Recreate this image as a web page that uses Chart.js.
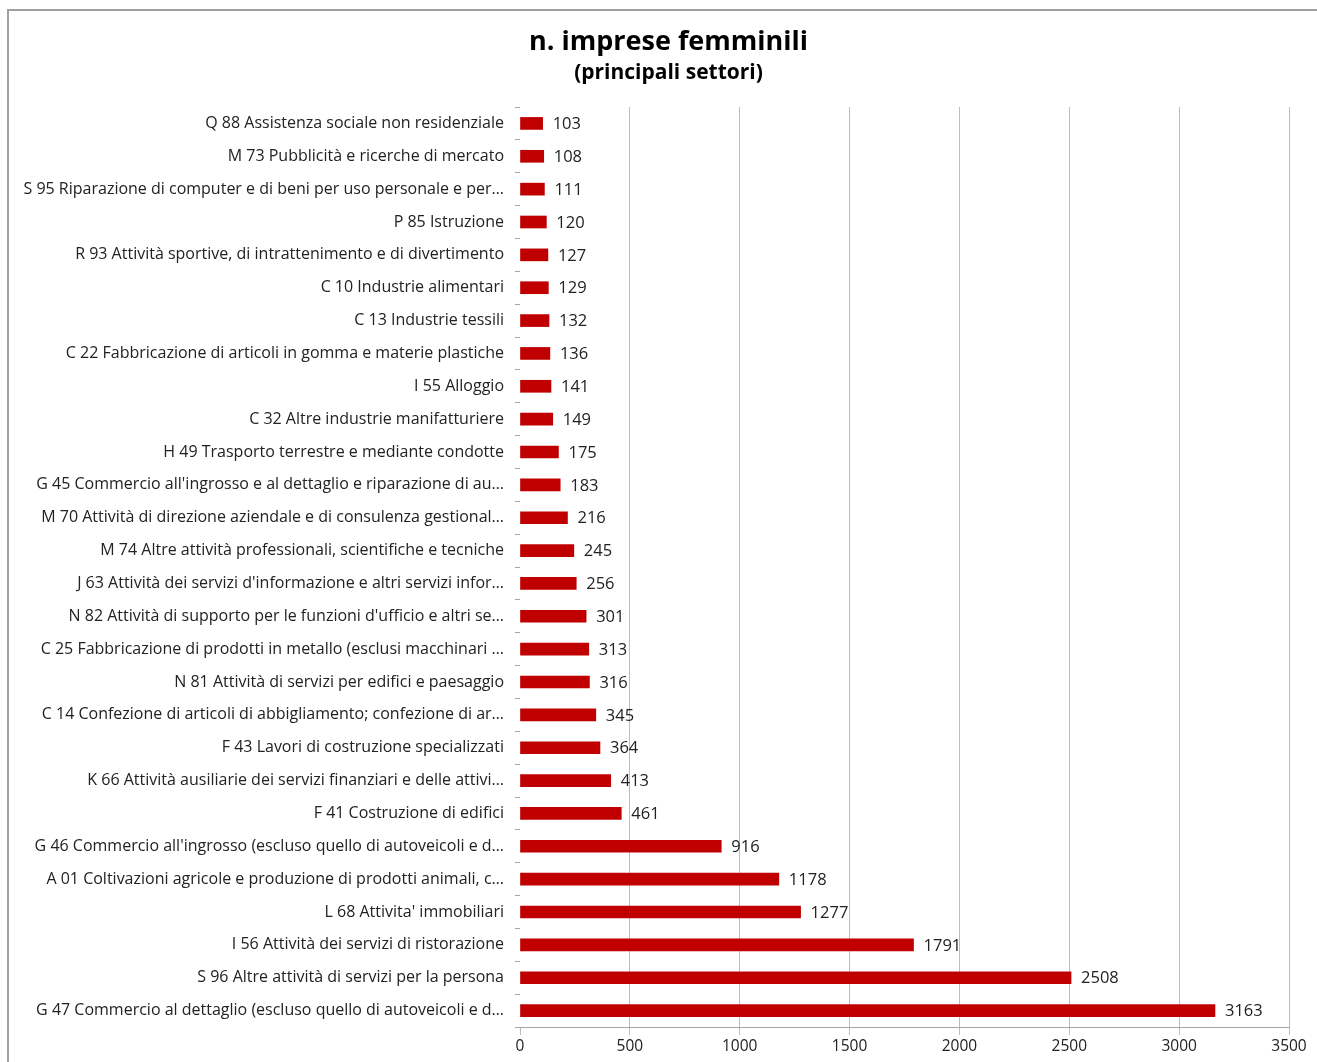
<!DOCTYPE html>
<html>
<head>
<meta charset="utf-8">
<script src="https://cdn.jsdelivr.net/npm/chart.js@4.4.1/dist/chart.umd.min.js"></script>
<style>
  html, body { margin: 0; padding: 0; background: #fff; }
  #wrap { width: 1317px; height: 1062px; }
</style>
</head>
<body>
<div id="wrap"><canvas id="graficoImprese"></canvas></div>
<script>
const settori = [
    'Q 88 Assistenza sociale non residenziale',
    'M 73 Pubblicità e ricerche di mercato',
    'S 95 Riparazione di computer e di beni per uso personale e per…',
    'P 85 Istruzione',
    'R 93 Attività sportive, di intrattenimento e di divertimento',
    'C 10 Industrie alimentari',
    'C 13 Industrie tessili',
    'C 22 Fabbricazione di articoli in gomma e materie plastiche',
    'I 55 Alloggio',
    'C 32 Altre industrie manifatturiere',
    'H 49 Trasporto terrestre e mediante condotte',
    "G 45 Commercio all'ingrosso e al dettaglio e riparazione di au…",
    'M 70 Attività di direzione aziendale e di consulenza gestional…',
    'M 74 Altre attività professionali, scientifiche e tecniche',
    "J 63 Attività dei servizi d'informazione e altri servizi infor…",
    "N 82 Attività di supporto per le funzioni d'ufficio e altri se…",
    'C 25 Fabbricazione di prodotti in metallo (esclusi macchinari …',
    'N 81 Attività di servizi per edifici e paesaggio',
    'C 14 Confezione di articoli di abbigliamento; confezione di ar…',
    'F 43 Lavori di costruzione specializzati',
    'K 66 Attività ausiliarie dei servizi finanziari e delle attivi…',
    'F 41 Costruzione di edifici',
    "G 46 Commercio all'ingrosso (escluso quello di autoveicoli e d…",
    'A 01 Coltivazioni agricole e produzione di prodotti animali, c…',
    "L 68 Attivita' immobiliari",
    'I 56 Attività dei servizi di ristorazione',
    'S 96 Altre attività di servizi per la persona',
    'G 47 Commercio al dettaglio (escluso quello di autoveicoli e d…'
];
const numeroImprese = [103, 108, 111, 120, 127, 129, 132, 136, 141, 149, 175, 183, 216, 245,
    256, 301, 313, 316, 345, 364, 413, 461, 916, 1178, 1277, 1791, 2508, 3163];
const assePassi = [0, 500, 1000, 1500, 2000, 2500, 3000, 3500];

const fonte = '"Open Sans", Lato, sans-serif';

// cornice grigia in alto e a sinistra
const cornice = {
    id: 'cornice',
    afterDraw(chart) {
        const ctx = chart.ctx;
        ctx.save();
        ctx.strokeStyle = '#a0a0a0';
        ctx.lineWidth = 2;
        ctx.beginPath();
        ctx.moveTo(8, 1062);
        ctx.lineTo(8, 10);
        ctx.lineTo(1317, 10);
        ctx.stroke();
        ctx.restore();
    }
};

// sposta un po' a destra il blocco del titolo
const spostaTitolo = {
    id: 'spostaTitolo',
    afterLayout(chart) {
        chart.boxes.filter(b => b.position === 'top').forEach(b => { b.left += 48; });
    }
};

// valori alla fine delle barre
const etichetteValori = {
    id: 'etichetteValori',
    afterDatasetsDraw(chart) {
        const ctx = chart.ctx;
        const meta = chart.getDatasetMeta(0);
        ctx.save();
        ctx.font = '16.5px ' + fonte;
        ctx.fillStyle = '#222';
        ctx.textAlign = 'left';
        ctx.textBaseline = 'middle';
        meta.data.forEach((barra, i) => {
            ctx.fillText(numeroImprese[i], barra.x + 10, barra.y + 1);
        });
        ctx.restore();
    }
};

const grafico = new Chart(document.getElementById('graficoImprese'), {
    type: 'bar',
    data: {
        labels: settori,
        datasets: [{
            label: 'n. imprese',
            data: numeroImprese,
            backgroundColor: '#c00000',
            borderWidth: 0,
            barThickness: 12
        }]
    },
    options: {
        indexAxis: 'y',
        responsive: true,
        maintainAspectRatio: false,
        animation: false,
        layout: { padding: { left: 0, right: 28, top: 0, bottom: 0 } },
        plugins: {
            legend: { display: false },
            tooltip: { enabled: false },
            title: {
                display: true,
                text: 'n. imprese femminili',
                color: '#000',
                font: { family: fonte, size: 27, weight: 'bold', lineHeight: 1.2 },
                padding: { top: 26, bottom: 0 }
            },
            subtitle: {
                display: true,
                text: '(principali settori)',
                color: '#000',
                font: { family: fonte, size: 21, weight: 'bold', lineHeight: 1.2 },
                padding: { top: 2, bottom: 21.4 }
            }
        },
        scales: {
            x: {
                min: 0,
                max: 3500,
                afterBuildTicks(scale) {
                    scale.ticks = assePassi.map(v => ({ value: v }));
                },
                afterFit(scale) { scale.height = 35; },
                grid: {
                    color: ctx => ctx.tick && ctx.tick.value === 0 ? 'rgba(0,0,0,0)' : '#bdbdbd',
                    tickLength: 8,
                    tickColor: '#bdbdbd'
                },
                border: { display: true, color: '#a6a6a6' },
                ticks: {
                    color: '#222',
                    padding: 2,
                    font: { family: fonte, size: 15.5 },
                    callback: v => String(v)
                }
            },
            y: {
                afterFit(scale) { scale.width = 520; },
                grid: {
                    offset: true,
                    drawOnChartArea: false,
                    drawTicks: true,
                    tickLength: 5,
                    color: '#a6a6a6'
                },
                border: { display: false },
                ticks: {
                    color: '#222',
                    padding: 11,
                    autoSkip: false,
                    font: { family: fonte, size: 16 }
                }
            }
        }
    },
    plugins: [cornice, spostaTitolo, etichetteValori]
});
</script>
</body>
</html>
